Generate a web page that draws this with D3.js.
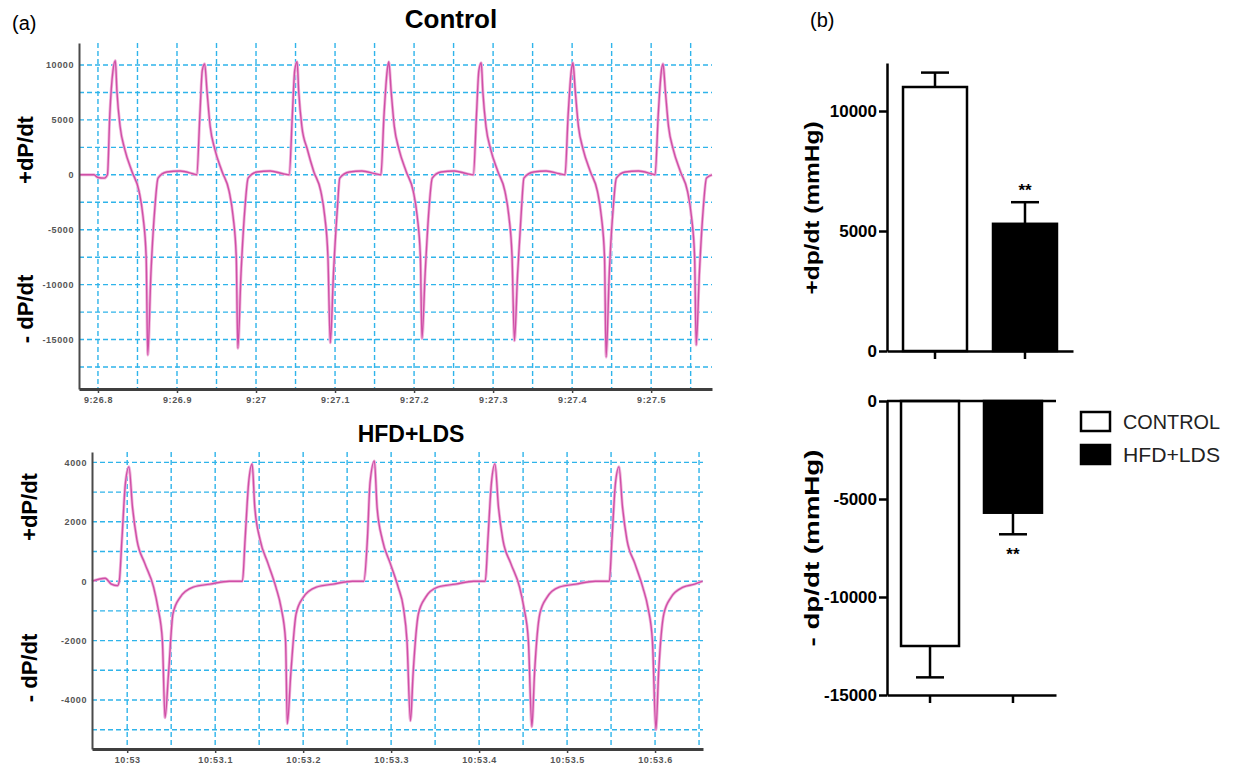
<!DOCTYPE html>
<html>
<head>
<meta charset="utf-8">
<script src="https://cdn.jsdelivr.net/npm/d3@7"></script>
<style>
  body { margin: 0; background: #fff; }
  text { font-family: "Liberation Sans", Arial, sans-serif; }
</style>
</head>
<body>
<div id="container"></div>
<script>
/* CONSTANTS AND GLOBALS */
const width = 1238, height = 764;

/* DATA */
// control trace: [seconds after 9:00, dP/dt]
const controlTrace = [
  [26.776, 0], [26.795, 0], [26.800, -250], [26.808, -300], [26.812, 0],
  [26.815, 5500], [26.819, 9500], [26.822, 10400], [26.824, 7600], [26.828, 4400], [26.834, 2300],
  [26.843, 300], [26.852, -1500], [26.857, -3800], [26.861, -7500], [26.863, -16400], [26.867, -9000],
  [26.872, -3000], [26.876, -300], [26.887, 250], [26.904, 350], [26.920, 100],
  [26.925, 0], [26.929, 5500], [26.932, 9500], [26.935, 10100], [26.938, 7600], [26.942, 4400], [26.948, 2300],
  [26.957, 300], [26.966, -1500], [26.971, -3800], [26.975, -7500], [26.977, -15800], [26.981, -9000],
  [26.986, -3000], [26.990, -300], [27.001, 250], [27.018, 350], [27.034, 100],
  [27.042, 0], [27.046, 5500], [27.049, 9500], [27.052, 10300], [27.054, 7600], [27.058, 4400], [27.065, 2300],
  [27.073, 300], [27.082, -1500], [27.087, -3800], [27.091, -7500], [27.094, -15300], [27.098, -9000],
  [27.103, -3000], [27.106, -300], [27.118, 250], [27.134, 350], [27.151, 100],
  [27.158, 0], [27.162, 5500], [27.166, 9500], [27.168, 10300], [27.171, 7600], [27.175, 4400], [27.181, 2300],
  [27.190, 300], [27.199, -1500], [27.204, -3800], [27.208, -7500], [27.210, -14900], [27.214, -9000],
  [27.219, -3000], [27.223, -300], [27.234, 250], [27.251, 350], [27.267, 100],
  [27.275, 0], [27.279, 5500], [27.282, 9500], [27.285, 10200], [27.287, 7600], [27.291, 4400], [27.297, 2300],
  [27.306, 300], [27.315, -1500], [27.320, -3800], [27.324, -7500], [27.327, -15100], [27.331, -9000],
  [27.336, -3000], [27.339, -300], [27.351, 250], [27.367, 350], [27.384, 100],
  [27.391, 0], [27.395, 5500], [27.399, 9500], [27.401, 10200], [27.404, 7600], [27.408, 4400], [27.414, 2300],
  [27.423, 300], [27.432, -1500], [27.437, -3800], [27.441, -7500], [27.443, -16600], [27.447, -9000],
  [27.452, -3000], [27.456, -300], [27.467, 250], [27.484, 350], [27.500, 100],
  [27.505, 0], [27.509, 5500], [27.513, 9500], [27.515, 10100], [27.518, 7600], [27.522, 4400], [27.528, 2300],
  [27.537, 300], [27.546, -1500], [27.551, -3800], [27.555, -7500], [27.557, -15500], [27.561, -9000],
  [27.566, -3000], [27.570, -300], [27.577, 0]
];

// HFD+LDS trace: [seconds after 10:00, dP/dt]
const hfdTrace = [
  [52.960, 0], [52.975, 100], [52.982, -100], [52.989, -150],
  [52.991, 0], [52.994, 1400], [52.998, 3300], [53.002, 3850], [53.006, 2500], [53.011, 1400], [53.020, 600],
  [53.030, -200], [53.035, -900], [53.040, -2000], [53.043, -4600], [53.047, -3100], [53.052, -1100],
  [53.060, -550], [53.075, -200], [53.094, -100], [53.116, 0],
  [53.131, 0], [53.134, 1400], [53.138, 3300], [53.142, 3950], [53.145, 2500], [53.151, 1400], [53.160, 600],
  [53.169, -200], [53.175, -900], [53.180, -2000], [53.182, -4800], [53.186, -3100], [53.192, -1100],
  [53.200, -550], [53.215, -200], [53.234, -100], [53.256, 0],
  [53.269, 0], [53.273, 1400], [53.276, 3300], [53.281, 4050], [53.284, 2500], [53.290, 1400], [53.299, 600],
  [53.308, -200], [53.314, -900], [53.318, -2000], [53.322, -4700], [53.325, -3100], [53.331, -1100],
  [53.339, -550], [53.353, -200], [53.373, -100], [53.394, 0],
  [53.407, 0], [53.410, 1400], [53.414, 3300], [53.418, 3950], [53.422, 2500], [53.427, 1400], [53.436, 600],
  [53.446, -200], [53.451, -900], [53.456, -2000], [53.460, -4900], [53.463, -3100], [53.469, -1100],
  [53.477, -550], [53.491, -200], [53.510, -100], [53.532, 0],
  [53.548, 0], [53.551, 1400], [53.555, 3300], [53.559, 3850], [53.563, 2500], [53.568, 1400], [53.577, 600],
  [53.586, -200], [53.592, -900], [53.597, -2000], [53.601, -5000], [53.604, -3100], [53.610, -1100],
  [53.618, -550], [53.632, -200], [53.645, -100], [53.654, 0]
];

const controlTimeTicks = [26.8, 26.9, 27.0, 27.1, 27.2, 27.3, 27.4, 27.5];
const controlTimeLabels = ["9:26.8", "9:26.9", "9:27", "9:27.1", "9:27.2", "9:27.3", "9:27.4", "9:27.5"];
const controlValueTicks = [10000, 5000, 0, -5000, -10000, -15000];

const hfdTimeTicks = [53.0, 53.1, 53.2, 53.3, 53.4, 53.5, 53.6];
const hfdTimeLabels = ["10:53", "10:53.1", "10:53.2", "10:53.3", "10:53.4", "10:53.5", "10:53.6"];
const hfdValueTicks = [4000, 2000, 0, -2000, -4000];

const groups = ["CONTROL", "HFD+LDS"];
const plusMean = [11000, 5300];
const plusSem = [600, 900];
const minusMean = [-12500, -5700];
const minusSem = [1600, 1100];
const stars = ["", "**"];
const plusTicks = [0, 5000, 10000];
const minusTicks = [0, -5000, -10000, -15000];

const groupFill = d3.scaleOrdinal().domain(groups).range(["#fff", "#000"]);

/* CREATE SVG ELEMENT */
const svg = d3.select("#container")
  .append("svg")
  .attr("width", width)
  .attr("height", height);

const fmt = d => String(d);

/* TRACE PANELS */
function drawTrace(cfg) {
  const x = d3.scaleLinear().domain(cfg.xDomain).range(cfg.xRange);
  const y = d3.scaleLinear().domain(cfg.yDomain).range(cfg.yRange);
  const g = svg.append("g");

  // grid
  const vGrid = d3.range(Math.ceil(cfg.xDomain[0] * 20), Math.floor(cfg.xDomain[1] * 20) + 1).map(i => i / 20);
  const hGrid = d3.range(Math.ceil(cfg.yDomain[0] / cfg.gridStep), Math.floor(cfg.yDomain[1] / cfg.gridStep) + 1)
    .map(i => i * cfg.gridStep);

  g.selectAll(".vgrid")
    .data(vGrid)
    .join("line")
    .attr("class", "vgrid")
    .attr("x1", d => x(d)).attr("x2", d => x(d))
    .attr("y1", cfg.yRange[1]).attr("y2", cfg.yRange[0])
    .attr("stroke", "#2fb4ea").attr("stroke-width", 1.4).attr("stroke-dasharray", "5,3");

  g.selectAll(".hgrid")
    .data(hGrid)
    .join("line")
    .attr("class", "hgrid")
    .attr("x1", cfg.xRange[0]).attr("x2", cfg.xRange[1])
    .attr("y1", d => y(d)).attr("y2", d => y(d))
    .attr("stroke", "#2fb4ea").attr("stroke-width", 1.4).attr("stroke-dasharray", "5,3");

  // trace
  const lineGen = d3.line()
    .x(d => x(d[0]))
    .y(d => y(d[1]))
    .curve(d3.curveMonotoneX);

  g.append("path")
    .datum(cfg.data)
    .attr("fill", "none")
    .attr("stroke", "#f0b4dc")
    .attr("stroke-width", 3)
    .attr("d", lineGen);
  g.append("path")
    .datum(cfg.data)
    .attr("fill", "none")
    .attr("stroke", "#cf4fa6")
    .attr("stroke-width", 1.4)
    .attr("d", lineGen);

  // axes
  const yAxis = d3.axisLeft(y)
    .tickValues(cfg.yTicks)
    .tickFormat(fmt)
    .tickSize(0)
    .tickPadding(5);
  const yAxisGroup = g.append("g")
    .attr("transform", `translate(${cfg.xRange[0]},0)`)
    .call(yAxis);
  yAxisGroup.select(".domain").attr("stroke", "#4a4a4a").attr("stroke-width", 2);
  yAxisGroup.selectAll("text")
    .attr("font-family", "Liberation Serif, serif")
    .attr("font-weight", "bold")
    .attr("font-size", 9)
    .attr("letter-spacing", 0.6)
    .attr("fill", "#555");

  const xAxis = d3.axisBottom(x)
    .tickValues(cfg.xTicks)
    .tickFormat((d, i) => cfg.xLabels[i])
    .tickSizeInner(4)
    .tickSizeOuter(0)
    .tickPadding(4);
  const xAxisGroup = g.append("g")
    .attr("transform", `translate(0,${cfg.yRange[0]})`)
    .call(xAxis);
  xAxisGroup.select(".domain").attr("stroke", "#3f3f3f").attr("stroke-width", 3);
  xAxisGroup.selectAll(".tick line").attr("stroke", "#444").attr("stroke-width", 1.5);
  xAxisGroup.selectAll("text")
    .attr("font-family", "Liberation Serif, serif")
    .attr("font-weight", "bold")
    .attr("font-size", 9)
    .attr("letter-spacing", 0.6)
    .attr("fill", "#555");

  // titles
  svg.append("text")
    .attr("x", cfg.titleX).attr("y", cfg.titleY)
    .attr("text-anchor", "middle")
    .attr("font-weight", "bold")
    .attr("font-size", cfg.titleSize)
    .text(cfg.title);

  [["+dP/dt", cfg.plusY], ["- dP/dt", cfg.minusY]].forEach(([label, cy]) => {
    svg.append("text")
      .attr("transform", `translate(${cfg.labelX},${cy}) rotate(-90)`)
      .attr("text-anchor", "middle")
      .attr("font-weight", "bold")
      .attr("font-size", 22)
      .text(label);
  });
}

drawTrace({
  data: controlTrace,
  xDomain: [26.776, 27.577], xRange: [79, 712],
  yDomain: [-19500, 12000], yRange: [389, 43],
  gridStep: 2500,
  xTicks: controlTimeTicks, xLabels: controlTimeLabels, yTicks: controlValueTicks,
  title: "Control", titleX: 451, titleY: 28, titleSize: 26,
  labelX: 33, plusY: 150, minusY: 309
});

drawTrace({
  data: hfdTrace,
  xDomain: [52.960, 53.6545], xRange: [92, 703],
  yDomain: [-5650, 4350], yRange: [749, 452],
  gridStep: 1000,
  xTicks: hfdTimeTicks, xLabels: hfdTimeLabels, yTicks: hfdValueTicks,
  title: "HFD+LDS", titleX: 411, titleY: 442, titleSize: 23,
  labelX: 37, plusY: 507, minusY: 668
});

svg.append("text").attr("x", 12).attr("y", 30).attr("font-size", 20).text("(a)");
svg.append("text").attr("x", 810).attr("y", 27).attr("font-size", 20).text("(b)");

/* BAR PANELS */
function drawBars(cfg) {
  const x = d3.scaleBand().domain(groups).range(cfg.xRange)
    .paddingInner(cfg.padIn).paddingOuter(cfg.padOut);
  const y = d3.scaleLinear().domain(cfg.yDomain).range(cfg.yRange);
  const g = svg.append("g");
  const rows = groups.map((grp, i) => ({ grp, mean: cfg.mean[i], sem: cfg.sem[i], star: stars[i] }));
  const sign = cfg.down ? -1 : 1;

  // error bars (drawn first, bars cover the lower half)
  g.selectAll(".err")
    .data(rows)
    .join("line")
    .attr("class", "err")
    .attr("x1", d => x(d.grp) + x.bandwidth() / 2)
    .attr("x2", d => x(d.grp) + x.bandwidth() / 2)
    .attr("y1", d => y(d.mean))
    .attr("y2", d => y(d.mean + sign * d.sem))
    .attr("stroke", "#000").attr("stroke-width", 2.5);

  g.selectAll(".cap")
    .data(rows)
    .join("line")
    .attr("class", "cap")
    .attr("x1", d => x(d.grp) + x.bandwidth() / 2 - 14)
    .attr("x2", d => x(d.grp) + x.bandwidth() / 2 + 14)
    .attr("y1", d => y(d.mean + sign * d.sem))
    .attr("y2", d => y(d.mean + sign * d.sem))
    .attr("stroke", "#000").attr("stroke-width", 2.5);

  g.selectAll(".bar")
    .data(rows)
    .join("rect")
    .attr("class", "bar")
    .attr("x", d => x(d.grp))
    .attr("width", x.bandwidth())
    .attr("y", d => Math.min(y(0), y(d.mean)))
    .attr("height", d => Math.abs(y(0) - y(d.mean)))
    .attr("fill", d => groupFill(d.grp))
    .attr("stroke", "#000").attr("stroke-width", 2.5);

  g.selectAll(".star")
    .data(rows)
    .join("text")
    .attr("class", "star")
    .attr("x", d => x(d.grp) + x.bandwidth() / 2)
    .attr("y", d => y(d.mean + sign * d.sem) + (cfg.down ? 26 : -6))
    .attr("text-anchor", "middle")
    .attr("font-weight", "bold")
    .attr("font-size", 17)
    .text(d => d.star);

  const yAxis = d3.axisLeft(y).tickValues(cfg.ticks).tickFormat(fmt)
    .tickSizeInner(8).tickSizeOuter(0).tickPadding(2);
  const yAxisGroup = g.append("g")
    .attr("transform", `translate(${cfg.xRange[0]},0)`)
    .call(yAxis);
  yAxisGroup.selectAll("path, line").attr("stroke", "#000").attr("stroke-width", 2.5);
  yAxisGroup.selectAll("text")
    .attr("font-weight", "bold").attr("font-size", 17)
    .attr("font-family", "Liberation Sans, Arial, sans-serif")
    .attr("fill", "#000");

  const xAxis = d3.axisBottom(x).tickFormat("").tickSizeInner(8).tickSizeOuter(0);
  const xAxisGroup = g.append("g")
    .attr("transform", `translate(0,${cfg.yRange[0]})`)
    .call(xAxis);
  xAxisGroup.selectAll("path, line").attr("stroke", "#000").attr("stroke-width", 2.5);

  if (cfg.down) {
    g.append("line")
      .attr("x1", cfg.xRange[0]).attr("x2", cfg.xRange[1])
      .attr("y1", y(0)).attr("y2", y(0))
      .attr("stroke", "#000").attr("stroke-width", 2.5);
  }

  svg.append("text")
    .attr("transform", `translate(819,${cfg.labelY}) rotate(-90)`)
    .attr("text-anchor", "middle")
    .attr("font-weight", "bold")
    .attr("font-size", 21)
    .attr("textLength", cfg.labelLen)
    .attr("lengthAdjust", "spacingAndGlyphs")
    .text(cfg.label);
}

drawBars({
  mean: plusMean, sem: plusSem, ticks: plusTicks, down: false,
  xRange: [887, 1073], padIn: 0.289, padOut: 0.178,
  yDomain: [0, 12000], yRange: [351, 63],
  label: "+dp/dt (mmHg)", labelY: 208, labelLen: 173
});

drawBars({
  mean: minusMean, sem: minusSem, ticks: minusTicks, down: true,
  xRange: [887, 1056], padIn: 0.301, padOut: 0.169,
  yDomain: [-15000, 0], yRange: [695, 401],
  label: "- dp/dt (mmHg)", labelY: 548, labelLen: 197
});

/* LEGEND */
const legend = svg.append("g").attr("transform", "translate(1081,412)");
legend.selectAll("rect")
  .data(groups)
  .join("rect")
  .attr("x", 0)
  .attr("y", (d, i) => i * 33)
  .attr("width", 29).attr("height", 19)
  .attr("fill", d => groupFill(d))
  .attr("stroke", "#000").attr("stroke-width", 2.5);
legend.selectAll("text")
  .data(groups)
  .join("text")
  .attr("x", 42)
  .attr("y", (d, i) => i * 33 + 17)
  .attr("font-size", 21)
  .attr("textLength", 97)
  .attr("lengthAdjust", "spacingAndGlyphs")
  .attr("fill", "#222")
  .text(d => d);
</script>
</body>
</html>
